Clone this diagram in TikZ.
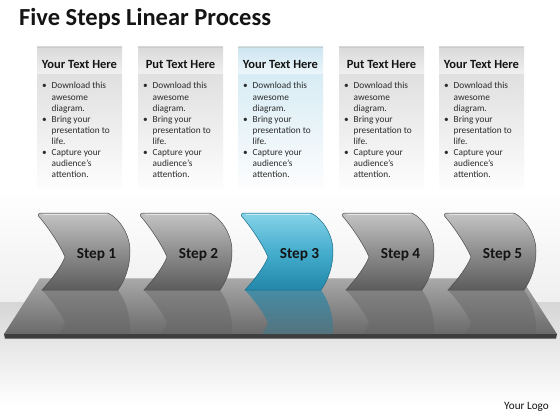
\documentclass[tikz,border=0pt]{standalone}
\usepackage{fontspec}
\setmainfont{Carlito}
\definecolor{titlec}{HTML}{141414}
\definecolor{txt}{HTML}{2B2B2B}
\definecolor{hdtop}{HTML}{D9D9D9}
\definecolor{hdbot}{HTML}{F1F1F1}
\definecolor{bdtop}{HTML}{E0E0E0}
\definecolor{bdbot}{HTML}{FDFDFD}
\definecolor{bhdtop}{HTML}{CDE5F0}
\definecolor{bhdbot}{HTML}{EEF7FB}
\definecolor{bbdtop}{HTML}{D8ECF5}
\definecolor{chtop}{HTML}{C4C4C4}
\definecolor{chmid}{HTML}{8E8E8E}
\definecolor{chbot}{HTML}{5C5C5C}
\definecolor{cbtop}{HTML}{86D3E8}
\definecolor{cbmid}{HTML}{45ADCD}
\definecolor{cbbot}{HTML}{2287AA}
\definecolor{pltop}{HTML}{A9A9A9}
\definecolor{plbot}{HTML}{6A6A6A}
\definecolor{pledge}{HTML}{3E3E3E}
\definecolor{bgmid}{HTML}{EFEFEF}
\definecolor{floor}{HTML}{D6D6D6}
\newcommand\chevronshape[4]{% #1 left, #2 top, #3 direction, #4 options
  \path[#4] ({#1+3},{#2}) -- ({#1+70},{#2})
    .. controls ({#1+82},{#2+#3*6}) and ({#1+92},{#2+#3*22}) .. ({#1+92},{#2+#3*38})
    .. controls ({#1+92},{#2+#3*54}) and ({#1+87},{#2+#3*67}) .. ({#1+80},{#2+#3*77})
    -- ({#1+4},{#2+#3*77})
    .. controls ({#1+14},{#2+#3*66}) and ({#1+23},{#2+#3*54}) .. ({#1+27},{#2+#3*44})
    .. controls ({#1+22},{#2+#3*32}) and ({#1+10},{#2+#3*14}) .. ({#1+0.5},{#2+#3*3})
    .. controls ({#1+0},{#2+#3*1}) and ({#1+1},{#2}) .. ({#1+3},{#2}) -- cycle;}
\newcommand\bodytext{%
  \begin{tabular}{@{}p{9.5pt}@{}l@{}}
  \textbullet & Download this\\ & awesome\\ & diagram.\\
  \textbullet & Bring your\\ & presentation to\\ & life.\\
  \textbullet & Capture your\\ & audience’s\\ & attention.
  \end{tabular}}
\begin{document}
\begin{tikzpicture}[x=1pt,y=-1pt,
  hdtext/.style={font=\fontsize{12.5}{14}\selectfont\bfseries, text=titlec, inner sep=0pt, anchor=base},
  bdtext/.style={font=\fontsize{9.3}{11.1}\selectfont, text=txt, inner sep=0pt, anchor=north west, align=left},
  steplabel/.style={font=\fontsize{15.3}{17}\selectfont\bfseries, text=titlec, inner sep=0pt, anchor=base},
  greychev/.style={top color=chtop, bottom color=chbot, middle color=chmid, draw=chbot!85!black, line width=0.5pt},
  bluechev/.style={top color=cbtop, bottom color=cbbot, middle color=cbmid, draw=cbbot!80!black, line width=0.5pt}]
\useasboundingbox (0,0) rectangle (560,420);
% background
\fill[white] (0,0) rectangle (560,420);
\shade[top color=white, bottom color=bgmid] (0,190) rectangle (560,302);
\shade[top color=floor, bottom color=white] (0,302) rectangle (560,405);
% title
\node[font=\fontsize{24.5}{28}\selectfont\bfseries, text=titlec, anchor=base west, inner sep=0pt] (title) at (19,25.5) {Five Steps Linear Process};
% text boxes
\foreach \i/\x/\w/\bl in {1/37/Your/0,2/138/Put/0,3/238/Your/1,4/339/Put/0,5/439/Your/0}{
  \ifnum\bl=1
    \shade[top color=bhdtop, bottom color=bhdbot] (\x,47) rectangle ({\x+85},75);
    \shade[top color=bbdtop, bottom color=bdbot] (\x,75) rectangle ({\x+85},188);
  \else
    \shade[top color=hdtop, bottom color=hdbot] (\x,47) rectangle ({\x+85},75);
    \shade[top color=bdtop, bottom color=bdbot] (\x,75) rectangle ({\x+85},188);
  \fi
  \draw[white!80!black, line width=0.6pt] (\x,47.3) -- ({\x+85},47.3);
  \node[hdtext] (h\i) at ({\x+42.5},68.5) {\w\ Text Here};
  \node[bdtext] (b\i) at ({\x+5},81) {\bodytext};
}
% platform
\shade[top color=pltop, bottom color=plbot] (40,278) -- (521,278) -- (557,334) -- (4,334) -- cycle;
\fill[pledge] (4,334) -- (557,334) -- (556,338.5) -- (5,338.5) -- cycle;
\draw[white!75!black, line width=0.6pt] (40,278) -- (521,278);
% reflections
\begin{scope}
  \clip (40,278) -- (521,278) -- (557,334) -- (4,334) -- cycle;
  \foreach \x in {38,140,342,444}{
    \chevronshape{\x}{367}{-1}{top color=chbot, bottom color=plbot, opacity=0.4}
  }
  \chevronshape{241}{367}{-1}{top color=cbbot, bottom color=plbot, opacity=0.7}
\end{scope}
% chevrons
\foreach \i/\x in {1/38,2/140,4/342,5/444}{
  \chevronshape{\x}{213}{1}{greychev}
  \draw[white, opacity=0.55, line width=0.8pt] ({\x+5},214.2) -- ({\x+69},214.2);
  \node[steplabel] (s\i) at ({\x+58.5},258.5) {Step \i};
}
\chevronshape{241}{213}{1}{bluechev}
\draw[white, opacity=0.55, line width=0.8pt] (246,214.2) -- (310,214.2);
\node[steplabel] (s3) at (299.5,258.5) {Step 3};
% logo
\node[font=\fontsize{11.2}{13}\selectfont, text=titlec, anchor=base east, inner sep=0pt] (logo) at (549,409) {Your Logo};
\end{tikzpicture}
\end{document}
